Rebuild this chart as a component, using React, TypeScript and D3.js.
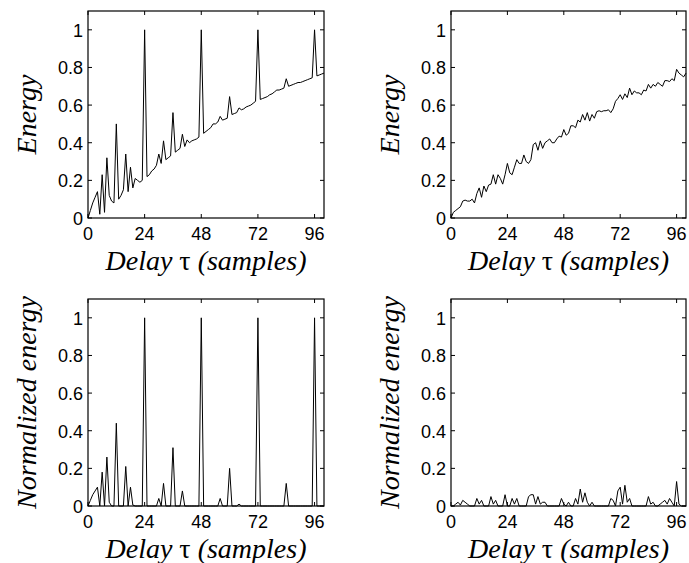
import React from "react";
import * as d3 from "d3";

// Delay τ = 0..100 (samples)
const delays: number[] = d3.range(0, 101);

const energyPeriodic: number[] = [
  0.0, 0.04, 0.08, 0.11, 0.14, 0.02, 0.23, 0.03, 0.32, 0.12,
  0.09, 0.08, 0.5, 0.1, 0.12, 0.15, 0.34, 0.14, 0.27, 0.16,
  0.21, 0.2, 0.19, 0.2, 1.0, 0.22, 0.23, 0.25, 0.26, 0.28,
  0.34, 0.29, 0.41, 0.31, 0.32, 0.33, 0.56, 0.35, 0.36, 0.37,
  0.445, 0.38, 0.415, 0.4, 0.41, 0.415, 0.42, 0.43, 1.0, 0.45,
  0.46, 0.47, 0.48, 0.5, 0.5, 0.51, 0.54, 0.52, 0.525, 0.53,
  0.645, 0.55, 0.555, 0.56, 0.585, 0.575, 0.58, 0.59, 0.595, 0.6,
  0.61, 0.62, 1.0, 0.63, 0.635, 0.64, 0.645, 0.655, 0.66, 0.67,
  0.68, 0.68, 0.685, 0.69, 0.74, 0.7, 0.705, 0.71, 0.715, 0.72,
  0.72, 0.725, 0.73, 0.735, 0.74, 0.745, 1.0, 0.755, 0.76, 0.765,
  0.77,
];

const energyNoise: number[] = [
  0.0, 0.03, 0.04, 0.05, 0.06, 0.09, 0.095, 0.09, 0.09, 0.1,
  0.08, 0.13, 0.16, 0.11, 0.17, 0.14, 0.175, 0.18, 0.23, 0.18,
  0.23, 0.21, 0.18, 0.23, 0.29, 0.24, 0.23, 0.27, 0.31, 0.29,
  0.29, 0.335, 0.3, 0.29, 0.31, 0.39, 0.4, 0.36, 0.41, 0.37,
  0.4, 0.41, 0.42, 0.4, 0.4, 0.42, 0.435, 0.43, 0.47, 0.44,
  0.45, 0.49, 0.49, 0.48, 0.52, 0.51, 0.55, 0.52, 0.56, 0.515,
  0.55, 0.53, 0.565, 0.57, 0.565, 0.57, 0.57, 0.575, 0.56, 0.58,
  0.62, 0.635, 0.655, 0.63, 0.66, 0.64, 0.69, 0.655, 0.675, 0.665,
  0.665, 0.655, 0.68, 0.675, 0.71, 0.69, 0.71, 0.7, 0.72, 0.71,
  0.7, 0.73, 0.73, 0.725, 0.74, 0.73, 0.79, 0.77, 0.76, 0.75,
  0.77,
];

const normPeriodic: number[] = [
  0.0, 0.03, 0.06, 0.08, 0.1, 0.0, 0.18, 0.0, 0.26, 0.02,
  0.0, 0.0, 0.44, 0.0, 0.0, 0.0, 0.21, 0.0, 0.1, 0.005,
  0.0, 0.0, 0.0, 0.0, 1.0, 0.0, 0.0, 0.0, 0.0, 0.0,
  0.04, 0.0, 0.12, 0.0, 0.0, 0.0, 0.31, 0.0, 0.0, 0.0,
  0.08, 0.0, 0.0, 0.0, 0.0, 0.0, 0.0, 0.0, 1.0, 0.0,
  0.0, 0.0, 0.0, 0.0, 0.0, 0.0, 0.04, 0.0, 0.0, 0.0,
  0.2, 0.0, 0.0, 0.0, 0.01, 0.0, 0.0, 0.0, 0.0, 0.0,
  0.0, 0.0, 1.0, 0.0, 0.0, 0.0, 0.0, 0.0, 0.0, 0.0,
  0.0, 0.0, 0.0, 0.0, 0.12, 0.0, 0.0, 0.0, 0.0, 0.0,
  0.0, 0.0, 0.0, 0.0, 0.0, 0.0, 1.0, 0.0, 0.0, 0.0,
  0.0,
];

const normNoise: number[] = [
  0.0, 0.0, 0.01, 0.02, 0.005, 0.03, 0.02, 0.01, 0.0, 0.0,
  0.0, 0.04, 0.01, 0.03, 0.0, 0.0, 0.0, 0.05, 0.01, 0.03,
  0.0, 0.0, 0.0, 0.06, 0.0, 0.0, 0.04, 0.01, 0.04, 0.0,
  0.0, 0.0, 0.0, 0.05, 0.06, 0.06, 0.01, 0.05, 0.01, 0.02,
  0.02, 0.0, 0.0, 0.0, 0.0, 0.0, 0.0, 0.04, 0.01, 0.0,
  0.02, 0.0, 0.0, 0.04, 0.01, 0.09, 0.02, 0.07, 0.02, 0.0,
  0.02, 0.0, 0.0, 0.0, 0.0, 0.0, 0.0, 0.0, 0.04, 0.03,
  0.0, 0.08, 0.1, 0.01, 0.11, 0.02, 0.04, 0.0, 0.0, 0.0,
  0.0, 0.0, 0.0, 0.0, 0.05, 0.01, 0.02, 0.0, 0.0, 0.01,
  0.02, 0.03, 0.01, 0.04, 0.02, 0.0, 0.13, 0.01, 0.0, 0.0,
  0.0,
];

const xTicks: number[] = [0, 24, 48, 72, 96];
const yTicks: number[] = [0, 0.2, 0.4, 0.6, 0.8, 1];
const yTickLabels: string[] = ["0", "0.2", "0.4", "0.6", "0.8", "1"];

const panels = [
  { values: energyPeriodic, ylabel: "Energy", left: 88, right: 324, top: 11, bottom: 218 },
  { values: energyNoise, ylabel: "Energy", left: 451, right: 686, top: 11, bottom: 218 },
  { values: normPeriodic, ylabel: "Normalized energy", left: 88, right: 324, top: 299, bottom: 506 },
  { values: normNoise, ylabel: "Normalized energy", left: 451, right: 686, top: 299, bottom: 506 },
];

const tickFont = "'Liberation Sans', Arial, Helvetica, sans-serif";
const labelFont = "'Liberation Serif', 'Times New Roman', Times, serif";

function Panel({ p }: { p: any }) {
  const x = d3.scaleLinear().domain([0, 100]).range([p.left, p.right]);
  const y = d3.scaleLinear().domain([0, 1.1]).range([p.bottom, p.top]);
  const line = d3
    .line<number>()
    .x((_, i) => x(delays[i]))
    .y((d) => y(d));
  const tl = 4;
  const cx = (p.left + p.right) / 2;
  const cy = (p.top + p.bottom) / 2;
  return (
    <g>
      <path d={line(p.values) || ""} fill="none" stroke="#000" strokeWidth={1} />
      <rect
        x={p.left}
        y={p.top}
        width={p.right - p.left}
        height={p.bottom - p.top}
        fill="none"
        stroke="#000"
        strokeWidth={1.2}
      />
      {xTicks.map((t) => (
        <g key={"x" + t}>
          <line x1={x(t)} x2={x(t)} y1={p.bottom} y2={p.bottom - tl} stroke="#000" />
          <line x1={x(t)} x2={x(t)} y1={p.top} y2={p.top + tl} stroke="#000" />
          <text
            x={x(t)}
            y={p.bottom + 22}
            textAnchor="middle"
            fontFamily={tickFont}
            fontSize={18}
          >
            {t}
          </text>
        </g>
      ))}
      {yTicks.map((t, i) => (
        <g key={"y" + t}>
          <line x1={p.left} x2={p.left + tl} y1={y(t)} y2={y(t)} stroke="#000" />
          <line x1={p.right} x2={p.right - tl} y1={y(t)} y2={y(t)} stroke="#000" />
          <text
            x={p.left - 5}
            y={y(t) + 7}
            textAnchor="end"
            fontFamily={tickFont}
            fontSize={18}
          >
            {yTickLabels[i]}
          </text>
        </g>
      ))}
      <text
        x={cx}
        y={p.bottom + 52}
        textAnchor="middle"
        fontFamily={labelFont}
        fontStyle="italic"
        fontSize={28}
      >
        Delay <tspan fontStyle="normal">τ</tspan> (samples)
      </text>
      <text
        transform={`translate(${p.left - 52},${cy}) rotate(-90)`}
        textAnchor="middle"
        fontFamily={labelFont}
        fontStyle="italic"
        fontSize={28}
      >
        {p.ylabel}
      </text>
    </g>
  );
}

export default function App() {
  return (
    <svg
      width={689}
      height={563}
      style={{ position: "absolute", left: 0, top: 0, background: "#fff" }}
    >
      <rect x={0} y={0} width={689} height={563} fill="#fff" />
      {panels.map((p, i) => (
        <Panel key={i} p={p} />
      ))}
    </svg>
  );
}
